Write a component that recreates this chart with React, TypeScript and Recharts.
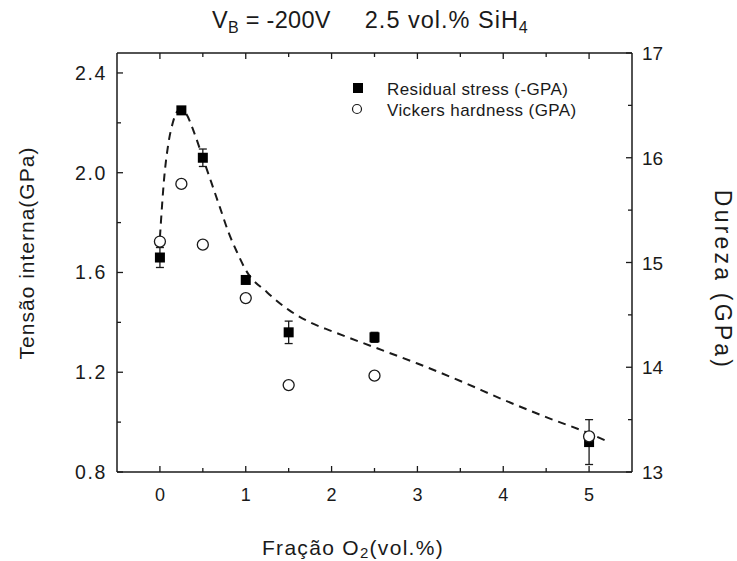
import React from 'react';
import { ComposedChart, XAxis, YAxis, Scatter, Line, ErrorBar, Label, Legend } from 'recharts';

// ---- data ----
const X_VALUES = [0, 0.25, 0.5, 1, 1.5, 2.5, 5];
const STRESS = [1.66, 2.25, 2.06, 1.57, 1.36, 1.34, 0.92];
const STRESS_ERR = [0.04, 0.015, 0.035, 0.01, 0.045, 0.02, 0.09];
const HARDNESS = [15.2, 15.75, 15.17, 14.66, 13.83, 13.92, 13.34];

const FIT_X = [0, 0.05, 0.1, 0.15, 0.2, 0.25, 0.3, 0.4, 0.5, 0.6, 0.7, 0.8, 0.9, 1.0, 1.25, 1.5, 1.75, 2.0, 2.5, 3.0, 3.5, 4.0, 4.5, 5.0, 5.2];
const FIT_Y = [1.74, 1.98, 2.12, 2.2, 2.245, 2.255, 2.24, 2.16, 2.06, 1.96, 1.86, 1.76, 1.68, 1.61, 1.52, 1.45, 1.4, 1.365, 1.3, 1.235, 1.165, 1.09, 1.02, 0.955, 0.925];

const X_TICKS = [0, 0.5, 1, 1.5, 2, 2.5, 3, 3.5, 4, 4.5, 5];
const X_LABELS = [0, 1, 2, 3, 4, 5];
const LEFT_TICKS = [0.8, 1.0, 1.2, 1.4, 1.6, 1.8, 2.0, 2.2, 2.4];
const LEFT_LABELS = [0.8, 1.2, 1.6, 2.0, 2.4];
const RIGHT_TICKS = [13, 13.5, 14, 14.5, 15, 15.5, 16, 16.5, 17];
const RIGHT_LABELS = [13, 14, 15, 16, 17];

const stressData = X_VALUES.map((x, i) => ({ x, y: STRESS[i], err: STRESS_ERR[i] }));
const hardData = X_VALUES.map((x, i) => ({ x, h: HARDNESS[i] }));
const fitData = FIT_X.map((x, i) => ({ x, fit: FIT_Y[i] }));

const FONT = '"Liberation Sans", Arial, Helvetica, sans-serif';
const INK = '#1a1a1a';
const has = (arr: number[], v: number) => arr.some((a) => Math.abs(a - v) < 1e-9);

const LeftTick = (props: any) => {
  const { x, y, payload } = props;
  const v = payload.value;
  const major = has(LEFT_LABELS, v);
  return (
    <g>
      <line x1={x} x2={x + (major ? 6 : 4)} y1={y} y2={y} stroke={INK} strokeWidth={1.3} />
      {major && (
        <text x={x - 10} y={y} dy={7} textAnchor="end" fontFamily={FONT} fontSize={19.5} letterSpacing={1.6} fill={INK}>
          {v.toFixed(1)}
        </text>
      )}
    </g>
  );
};

const RightTick = (props: any) => {
  const { x, y, payload } = props;
  const v = payload.value;
  const major = has(RIGHT_LABELS, v);
  return (
    <g>
      <line x1={x} x2={x - (major ? 6 : 4)} y1={y} y2={y} stroke={INK} strokeWidth={1.3} />
      {major && (
        <text x={x + 10} y={y} dy={7} textAnchor="start" fontFamily={FONT} fontSize={19} fill={INK}>
          {String(v)}
        </text>
      )}
    </g>
  );
};

const BottomTick = (props: any) => {
  const { x, y, payload } = props;
  const v = payload.value;
  const major = has(X_LABELS, v);
  return (
    <g>
      <line x1={x} x2={x} y1={y} y2={y - (major ? 6 : 4)} stroke={INK} strokeWidth={1.3} />
      {major && (
        <text x={x} y={y + 29} textAnchor="middle" fontFamily={FONT} fontSize={18} fill={INK}>
          {String(v)}
        </text>
      )}
    </g>
  );
};

const TopTick = (props: any) => {
  const { x, y, payload } = props;
  const v = payload.value;
  const major = has(X_LABELS, v);
  return <line x1={x} x2={x} y1={y} y2={y + (major ? 6 : 4)} stroke={INK} strokeWidth={1.3} />;
};

const Square = (props: any) => {
  const { cx, cy } = props;
  if (cx == null || cy == null) return null;
  return <rect x={cx - 5} y={cy - 5} width={10} height={10} fill="#000" />;
};

const OpenCircle = (props: any) => {
  const { cx, cy } = props;
  if (cx == null || cy == null) return null;
  return <circle cx={cx} cy={cy} r={5.5} fill="#fff" stroke={INK} strokeWidth={1.3} />;
};

const TitleContent = () => (
  <text x={370} y={28} textAnchor="middle" fontFamily={FONT} fontSize={23.5} letterSpacing={0.3} fill={INK}>
    <tspan>V</tspan>
    <tspan fontSize={16} dy={5}>B</tspan>
    <tspan dy={-5}>{' = -200V'}</tspan>
    <tspan dx={34} letterSpacing={1}>2.5 vol.% SiH</tspan>
    <tspan fontSize={16} dy={5}>4</tspan>
  </text>
);

const LeftTitle = () => (
  <text
    x={26}
    y={253}
    transform="rotate(-90, 26, 253)"
    textAnchor="middle"
    dominantBaseline="central"
    fontFamily={FONT}
    fontSize={21}
    letterSpacing={1}
    fill={INK}
  >
    Tensão interna(GPa)
  </text>
);

const RightTitle = () => (
  <text
    x={723}
    y={280}
    transform="rotate(90, 723, 280)"
    textAnchor="middle"
    dominantBaseline="central"
    fontFamily={FONT}
    fontSize={23}
    letterSpacing={3.2}
    fill={INK}
  >
    Dureza (GPa)
  </text>
);

const BottomTitle = () => (
  <text x={353} y={555} textAnchor="middle" fontFamily={FONT} fontSize={21} letterSpacing={1.3} fill={INK}>
    <tspan>Fração O</tspan>
    <tspan fontSize={15} dy={3}>2</tspan>
    <tspan dy={-3}>(vol.%)</tspan>
  </text>
);

const LegendContent = (props: any) => {
  const items = (props.payload || []).filter((p: any) => p.type !== 'none');
  return (
    <svg width={280} height={50} style={{ display: 'block' }}>
      {items.map((p: any, i: number) => {
        const cy = i === 0 ? 14 : 35;
        return (
          <g key={i}>
            {i === 0 ? (
              <rect x={8} y={cy - 5} width={10} height={10} fill="#000" />
            ) : (
              <circle cx={12} cy={cy} r={4.5} fill="#fff" stroke={INK} strokeWidth={1.2} />
            )}
            <text x={42} y={cy + 6.5} fontFamily={FONT} fontSize={17} letterSpacing={0.4} fill={INK}>
              {p.value}
            </text>
          </g>
        );
      })}
    </svg>
  );
};

export default function App() {
  return (
    <div style={{ position: 'absolute', left: 0, top: 0, width: 737, height: 561, background: '#fff' }}>
      <ComposedChart width={737} height={561} margin={{ top: 43, right: 0, bottom: 0, left: 0 }}>
        <XAxis
          dataKey="x"
          type="number"
          domain={[-0.5, 5.5]}
          allowDataOverflow
          ticks={X_TICKS}
          interval={0}
          height={89}
          tickSize={0}
          tickMargin={0}
          tickLine={false}
          axisLine={{ stroke: INK, strokeWidth: 1.5 }}
          tick={BottomTick}
        >
          <Label content={BottomTitle} />
        </XAxis>
        <XAxis
          xAxisId="top"
          orientation="top"
          dataKey="x"
          type="number"
          domain={[-0.5, 5.5]}
          allowDataOverflow
          ticks={X_TICKS}
          interval={0}
          height={10}
          tickSize={0}
          tickMargin={0}
          tickLine={false}
          axisLine={{ stroke: INK, strokeWidth: 1.5 }}
          tick={TopTick}
        >
          <Label content={TitleContent} />
        </XAxis>
        <YAxis
          yAxisId="left"
          type="number"
          domain={[0.8, 2.48]}
          allowDataOverflow
          ticks={LEFT_TICKS}
          interval={0}
          width={117}
          tickSize={0}
          tickMargin={0}
          tickLine={false}
          axisLine={{ stroke: INK, strokeWidth: 1.5 }}
          tick={LeftTick}
        >
          <Label content={LeftTitle} />
        </YAxis>
        <YAxis
          yAxisId="right"
          orientation="right"
          type="number"
          domain={[13, 17]}
          allowDataOverflow
          ticks={RIGHT_TICKS}
          interval={0}
          width={105}
          tickSize={0}
          tickMargin={0}
          tickLine={false}
          axisLine={{ stroke: INK, strokeWidth: 1.5 }}
          tick={RightTick}
        >
          <Label content={RightTitle} />
        </YAxis>
        <Legend
          layout="vertical"
          align="center"
          verticalAlign="middle"
          wrapperStyle={{ left: 345, top: 74, width: 280, height: 50 }}
          content={LegendContent}
        />
        <Line
          yAxisId="left"
          data={fitData}
          dataKey="fit"
          type="monotone"
          stroke={INK}
          strokeWidth={2}
          strokeDasharray="8 6"
          dot={false}
          activeDot={false}
          legendType="none"
          isAnimationActive={false}
        />
        <Scatter
          yAxisId="left"
          name="Residual stress (-GPA)"
          data={stressData}
          dataKey="y"
          shape={Square}
          isAnimationActive={false}
        >
          <ErrorBar dataKey="err" direction="y" width={4} stroke={INK} strokeWidth={1.3} isAnimationActive={false} />
        </Scatter>
        <Scatter
          yAxisId="right"
          name="Vickers hardness (GPA)"
          data={hardData}
          dataKey="h"
          shape={OpenCircle}
          isAnimationActive={false}
        />
      </ComposedChart>
    </div>
  );
}
